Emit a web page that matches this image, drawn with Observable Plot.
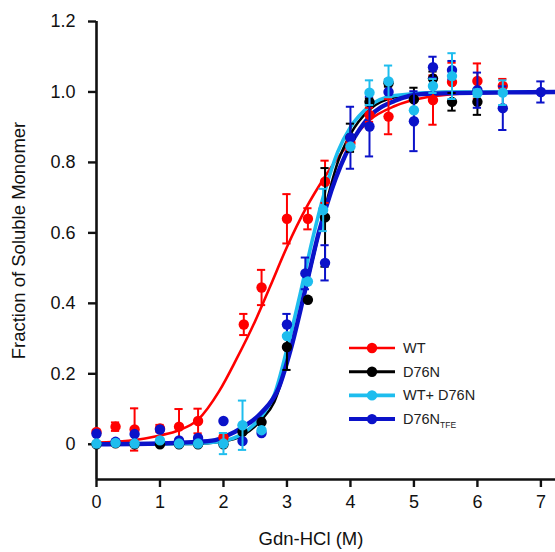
<!DOCTYPE html>
<html><head><meta charset="utf-8">
<script src="https://cdn.jsdelivr.net/npm/d3@7"></script>
<script src="https://cdn.jsdelivr.net/npm/@observablehq/plot@0.6"></script>
<style>
html,body{margin:0;padding:0;background:#fff;}
#wrap{position:relative;width:555px;height:552px;font-family:"Liberation Sans",Arial,sans-serif;}
#legend{position:absolute;left:340px;top:330px;}
</style></head><body><div id="wrap"></div>
<script>
// ---- series meta ----
const seriesNames = ["WT", "D76N", "WT+ D76N", "D76N_TFE"];
const seriesColors = ["#ff0000", "#000000", "#1ebdee", "#0b12c9"];

// ---- measured points (x = Gdn-HCl M, y = fraction, e = error) ----
const wtX   = [0, 0.3, 0.6, 1.0, 1.3, 1.6, 2.0, 2.32, 2.6, 3.0, 3.33, 3.6, 4.0, 4.3, 4.6, 5.3, 5.6, 6.0, 6.4];
const wtY   = [0.035, 0.05, 0.042, 0.045, 0.05, 0.066, 0.02, 0.34, 0.445, 0.64, 0.64, 0.745, 0.855, 0.935, 0.93, 0.977, 1.028, 1.031, 1.017];
const wtE   = [0.005, 0.012, 0.06, 0.01, 0.05, 0.035, 0, 0.03, 0.05, 0.07, 0.03, 0.06, 0.02, 0.02, 0.05, 0.07, 0.055, 0.05, 0.02];

const d76X  = [0, 0.3, 0.6, 1.0, 1.3, 1.6, 2.0, 2.3, 2.6, 3.0, 3.33, 3.6, 4.0, 4.3, 4.6, 5.0, 5.3, 5.6, 6.0];
const d76Y  = [0.0, 0.003, 0.0, 0.0, 0.0, 0.0, 0.0, 0.035, 0.063, 0.276, 0.41, 0.644, 0.87, 0.972, 1.025, 0.979, 1.038, 0.972, 0.972];
const d76E  = [0, 0, 0, 0, 0, 0, 0, 0.02, 0, 0.065, 0, 0.14, 0.04, 0.01, 0.01, 0.033, 0.02, 0.025, 0.037];

const mixX  = [0, 0.3, 0.6, 1.0, 1.3, 1.6, 2.0, 2.3, 2.6, 3.0, 3.33, 3.57, 4.0, 4.3, 4.6, 5.0, 5.3, 5.6, 6.0, 6.4];
const mixY  = [0.002, 0.004, 0.002, 0.011, 0.002, 0.002, 0.002, 0.054, 0.04, 0.307, 0.462, 0.665, 0.845, 0.998, 1.03, 0.948, 1.017, 1.045, 0.997, 0.998];
const mixE  = [0, 0, 0, 0, 0, 0, 0.03, 0.07, 0, 0, 0, 0.06, 0, 0.035, 0.045, 0, 0.02, 0.065, 0.01, 0.035];

const tfeX  = [0, 0.3, 0.6, 1.0, 1.3, 1.6, 2.0, 2.3, 2.6, 3.0, 3.29, 3.6, 4.0, 4.3, 4.6, 5.0, 5.3, 5.6, 6.0, 6.4, 7.0];
const tfeY  = [0.03, 0.007, 0.029, 0.042, 0.011, 0.018, 0.066, 0.009, 0.032, 0.34, 0.485, 0.515, 0.87, 0.902, 1.0, 0.917, 1.07, 1.062, 1.005, 0.954, 1.0];
const tfeE  = [0, 0, 0, 0, 0, 0, 0, 0, 0, 0.03, 0.045, 0.05, 0.088, 0.085, 0, 0.085, 0.03, 0.026, 0.05, 0.062, 0.03];

// ---- fitted curves ----
const wtFitX  = [0, 0.5, 1.0, 1.3, 1.6, 1.93, 2.2, 2.5, 2.74, 3.0, 3.3, 3.6, 4.0, 4.3, 4.7, 5.2, 6.0, 7.23];
const wtFitY  = [0.005, 0.01, 0.025, 0.04, 0.07, 0.15, 0.24, 0.35, 0.45, 0.56, 0.67, 0.76, 0.86, 0.92, 0.96, 0.985, 0.997, 1.0];
const d76FitX = [0, 1.5, 2.0, 2.3, 2.6, 2.8, 3.0, 3.2, 3.4, 3.6, 3.8, 4.0, 4.3, 4.7, 5.5, 7.23];
const d76FitY = [0, 0.001, 0.008, 0.025, 0.07, 0.12, 0.23, 0.37, 0.52, 0.67, 0.8, 0.88, 0.95, 0.985, 1.0, 1.0];
const mixFitX = [0, 1.5, 2.0, 2.3, 2.6, 2.8, 3.0, 3.2, 3.4, 3.6, 3.8, 4.0, 4.3, 4.7, 5.5, 7.23];
const mixFitY = [0, 0.002, 0.01, 0.03, 0.08, 0.14, 0.27, 0.42, 0.58, 0.72, 0.83, 0.9, 0.96, 0.99, 1.0, 1.0];
const tfeFitX = [0, 1.0, 1.5, 1.87, 2.0, 2.32, 2.6, 2.87, 3.06, 3.29, 3.5, 3.7, 4.0, 4.3, 4.7, 5.2, 7.23];
const tfeFitY = [0, 0.002, 0.006, 0.012, 0.02, 0.05, 0.09, 0.16, 0.27, 0.44, 0.6, 0.72, 0.85, 0.93, 0.975, 0.995, 1.0];

// ---- axes ----
const xTicks = [0, 1, 2, 3, 4, 5, 6, 7];
const xTickLabels = ["0", "1", "2", "3", "4", "5", "6", "7"];
const yTicks = [0, 0.2, 0.4, 0.6, 0.8, 1.0, 1.2];
const yTickLabels = ["0", "0.2", "0.4", "0.6", "0.8", "1.0", "1.2"];
const xDomain = [0, 7.23];
const yDomain = [-0.1, 1.2];
const xLabel = "Gdn-HCl (M)";
const yLabel = "Fraction of Soluble Monomer";

// ---- build tables ----
const pts = (name, X, Y, E) => X.map((x, i) => ({series: name, x, y: Y[i], e: E[i]}));
const fit = (name, X, Y) => X.map((x, i) => ({series: name, x, y: Y[i]}));
const pointSets = [
  pts(seriesNames[0], wtX, wtY, wtE),
  pts(seriesNames[1], d76X, d76Y, d76E),
  pts(seriesNames[2], mixX, mixY, mixE),
  pts(seriesNames[3], tfeX, tfeY, tfeE)
];
const fitSets = [
  fit(seriesNames[0], wtFitX, wtFitY),
  fit(seriesNames[1], d76FitX, d76FitY),
  fit(seriesNames[2], mixFitX, mixFitY),
  fit(seriesNames[3], tfeFitX, tfeFitY)
];
const lineWidths = [2.6, 2.6, 3.6, 4.4];
const cap = 0.065;

const marks = [];
// fitted lines: red, black, cyan, blue
[0, 1, 2, 3].forEach(i => {
  marks.push(Plot.line(fitSets[i], {x: "x", y: "y", stroke: seriesColors[i], strokeWidth: lineWidths[i], curve: "monotone-x"}));
});
// error bars + dots: red, black, blue, cyan
[0, 1, 3, 2].forEach(i => {
  const eb = pointSets[i].filter(d => d.e > 0);
  marks.push(Plot.ruleX(eb, {x: "x", y1: d => d.y - d.e, y2: d => d.y + d.e, stroke: seriesColors[i], strokeWidth: 2}));
  marks.push(Plot.ruleY(eb, {y: d => d.y + d.e, x1: d => d.x - cap, x2: d => d.x + cap, stroke: seriesColors[i], strokeWidth: 2}));
  marks.push(Plot.ruleY(eb, {y: d => d.y - d.e, x1: d => d.x - cap, x2: d => d.x + cap, stroke: seriesColors[i], strokeWidth: 2}));
  marks.push(Plot.dot(pointSets[i], {x: "x", y: "y", r: 5.2, fill: seriesColors[i], stroke: "none"}));
});

const chart = Plot.plot({
  width: 555,
  height: 552,
  marginLeft: 96,
  marginRight: 0,
  marginTop: 21,
  marginBottom: 73,
  style: {fontFamily: "'Liberation Sans', Arial, sans-serif", fontSize: "18px", color: "#111", background: "#fff"},
  x: {domain: xDomain},
  y: {domain: yDomain},
  marks: [
    Plot.axisX({ticks: xTicks, tickFormat: (d) => xTickLabels[xTicks.indexOf(d)], tickSize: 8, tickPadding: 8, strokeWidth: 2.4, label: null, fontSize: 18}),
    Plot.axisY({ticks: yTicks, tickFormat: (d) => yTickLabels[yTicks.findIndex(t => Math.abs(t - d) < 1e-9)], tickSize: 8, tickPadding: 13, strokeWidth: 2.4, label: null, fontSize: 18}),
    Plot.ruleX([xDomain[0]], {strokeWidth: 2.6}),
    Plot.ruleY([yDomain[0]], {strokeWidth: 2.6}),
    ...marks,
    Plot.text([xLabel], {text: d => d, frameAnchor: "bottom", textAnchor: "middle", dy: 65, dx: -15, fontSize: 18.5, fill: "#111"}),
    Plot.text([yLabel], {text: d => d, frameAnchor: "left", textAnchor: "middle", rotate: -90, dx: -77, dy: -10, fontSize: 18.5, fill: "#111"})
  ]
});
const wrap = document.getElementById("wrap");
wrap.appendChild(chart);

// ---- legend overlay ----
const leg = d3.select(wrap).append("svg").attr("id", "legend").attr("width", 200).attr("height", 110)
  .style("font-family", "'Liberation Sans', Arial, sans-serif");
const legWidths = [2.6, 3, 3.6, 4];
seriesNames.forEach((name, i) => {
  const g = leg.append("g").attr("transform", `translate(0,${18 + i * 23.7})`);
  g.append("line").attr("x1", 9).attr("x2", 55).attr("y1", 0).attr("y2", 0).attr("stroke", seriesColors[i]).attr("stroke-width", legWidths[i]);
  g.append("circle").attr("cx", 32).attr("cy", 0).attr("r", 5.2).attr("fill", seriesColors[i]);
  const t = g.append("text").attr("x", 63).attr("y", 5).attr("font-size", 14.5).attr("fill", "#222");
  const parts = name.split("_");
  t.append("tspan").text(parts[0]);
  if (parts[1]) t.append("tspan").attr("font-size", 8.5).attr("dy", 4).text(parts[1]);
});
</script>
</body></html>
